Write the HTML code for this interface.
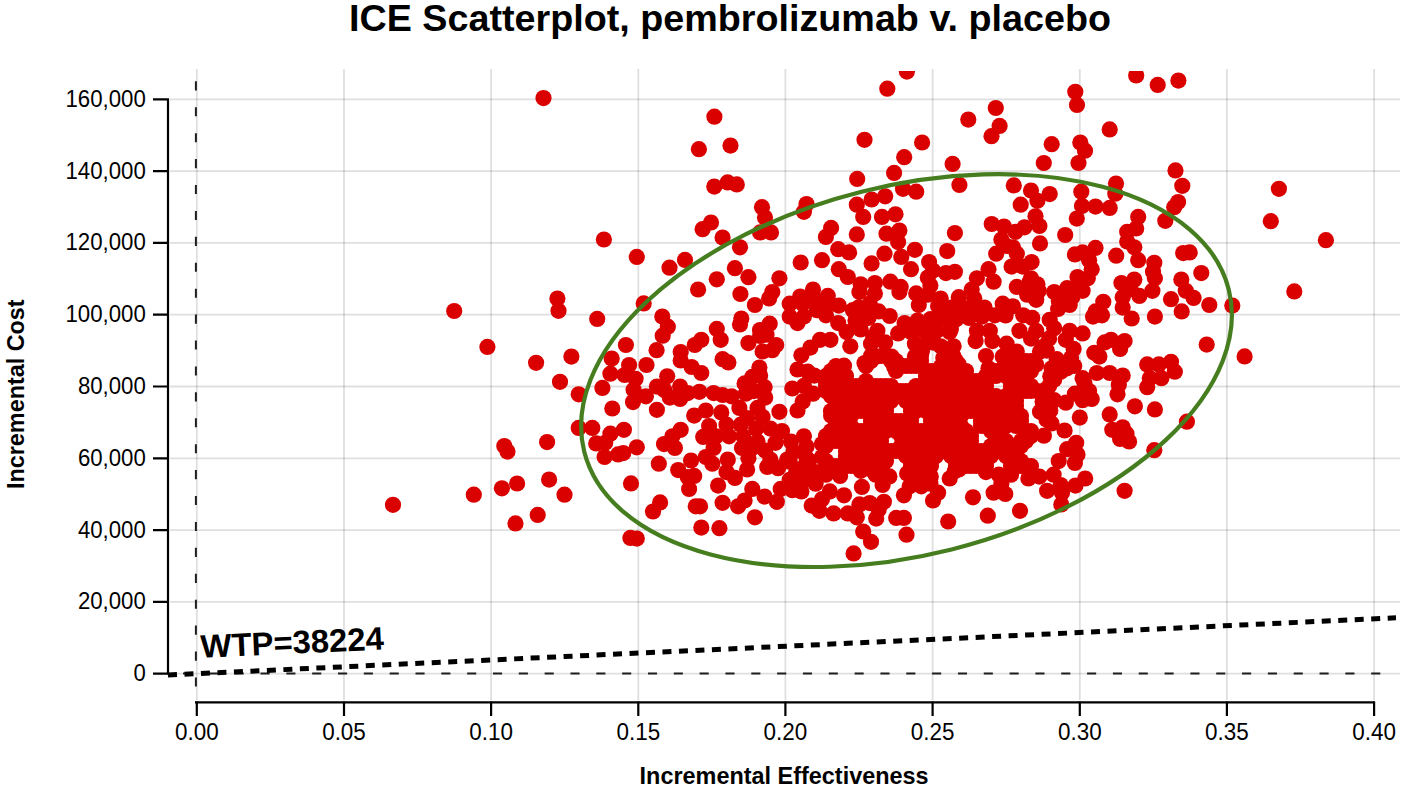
<!DOCTYPE html><html><head><meta charset="utf-8"><style>html,body{margin:0;padding:0;background:#fff;}svg{display:block;}text{font-family:"Liberation Sans",sans-serif;}</style></head><body>
<svg width="1404" height="790" viewBox="0 0 1404 790">
<rect width="1404" height="790" fill="#fff"/>
<path d="M196.8 69V700 M344.0 69V700 M491.1 69V700 M638.3 69V700 M785.4 69V700 M932.6 69V700 M1079.8 69V700 M1226.9 69V700 M1374.1 69V700" stroke="#000" stroke-opacity="0.125" stroke-width="1.8" fill="none"/>
<path d="M170 673.7H1400 M170 601.9H1400 M170 530.1H1400 M170 458.3H1400 M170 386.5H1400 M170 314.7H1400 M170 242.9H1400 M170 171.1H1400 M170 99.3H1400" stroke="#000" stroke-opacity="0.125" stroke-width="1.8" fill="none"/>
<path d="M195.9 81.3V687" stroke="#1e1e1e" stroke-width="2" stroke-dasharray="9.1 16.82" fill="none"/>
<path d="M1380.3 673.6H170" stroke="#1e1e1e" stroke-width="2" stroke-dasharray="9.1 16.73" fill="none"/>
<defs><clipPath id="c"><rect x="170" y="71.1" width="1230" height="630"/></clipPath></defs>
<g fill="#db0000" clip-path="url(#c)">
<circle cx="543.5" cy="98.1" r="8.1"/>
<circle cx="714.4" cy="116.7" r="8.1"/>
<circle cx="698.9" cy="149.2" r="8.1"/>
<circle cx="730.5" cy="145.6" r="8.1"/>
<circle cx="714.3" cy="186.6" r="8.1"/>
<circle cx="727.6" cy="182.4" r="8.1"/>
<circle cx="736.8" cy="184.4" r="8.1"/>
<circle cx="906.9" cy="71.6" r="8.1"/>
<circle cx="887.3" cy="88.7" r="8.1"/>
<circle cx="864.5" cy="139.8" r="8.1"/>
<circle cx="922.1" cy="142.5" r="8.1"/>
<circle cx="904.2" cy="157.2" r="8.1"/>
<circle cx="894.1" cy="172.9" r="8.1"/>
<circle cx="857.2" cy="178.9" r="8.1"/>
<circle cx="952.6" cy="163.9" r="8.1"/>
<circle cx="968.3" cy="119.6" r="8.1"/>
<circle cx="995.8" cy="108.0" r="8.1"/>
<circle cx="999.6" cy="125.9" r="8.1"/>
<circle cx="991.5" cy="136.2" r="8.1"/>
<circle cx="1075.3" cy="91.8" r="8.1"/>
<circle cx="1077.0" cy="104.9" r="8.1"/>
<circle cx="1051.7" cy="144.2" r="8.1"/>
<circle cx="1043.8" cy="163.0" r="8.1"/>
<circle cx="1080.3" cy="142.5" r="8.1"/>
<circle cx="1085.0" cy="150.7" r="8.1"/>
<circle cx="1078.5" cy="163.0" r="8.1"/>
<circle cx="959.4" cy="184.9" r="8.1"/>
<circle cx="1013.8" cy="185.4" r="8.1"/>
<circle cx="903.0" cy="188.8" r="8.1"/>
<circle cx="1136.2" cy="75.5" r="8.1"/>
<circle cx="1157.7" cy="84.9" r="8.1"/>
<circle cx="1178.4" cy="80.6" r="8.1"/>
<circle cx="1109.7" cy="129.4" r="8.1"/>
<circle cx="1175.5" cy="170.4" r="8.1"/>
<circle cx="1182.3" cy="185.8" r="8.1"/>
<circle cx="1116.0" cy="183.5" r="8.1"/>
<circle cx="1278.9" cy="188.8" r="8.1"/>
<circle cx="454.2" cy="311.0" r="8.1"/>
<circle cx="487.4" cy="346.9" r="8.1"/>
<circle cx="393.0" cy="504.8" r="8.1"/>
<circle cx="473.8" cy="494.7" r="8.1"/>
<circle cx="504.3" cy="446.0" r="8.1"/>
<circle cx="507.5" cy="451.6" r="8.1"/>
<circle cx="501.9" cy="488.3" r="8.1"/>
<circle cx="517.1" cy="483.5" r="8.1"/>
<circle cx="515.5" cy="523.4" r="8.1"/>
<circle cx="603.9" cy="239.5" r="8.1"/>
<circle cx="636.8" cy="256.9" r="8.1"/>
<circle cx="669.5" cy="267.7" r="8.1"/>
<circle cx="685.0" cy="259.9" r="8.1"/>
<circle cx="557.4" cy="298.5" r="8.1"/>
<circle cx="558.5" cy="310.8" r="8.1"/>
<circle cx="597.2" cy="318.9" r="8.1"/>
<circle cx="643.7" cy="303.4" r="8.1"/>
<circle cx="662.3" cy="316.6" r="8.1"/>
<circle cx="667.8" cy="326.7" r="8.1"/>
<circle cx="662.7" cy="335.7" r="8.1"/>
<circle cx="656.6" cy="350.2" r="8.1"/>
<circle cx="625.9" cy="345.0" r="8.1"/>
<circle cx="680.7" cy="352.1" r="8.1"/>
<circle cx="680.7" cy="360.5" r="8.1"/>
<circle cx="611.7" cy="358.6" r="8.1"/>
<circle cx="629.1" cy="365.0" r="8.1"/>
<circle cx="646.5" cy="365.0" r="8.1"/>
<circle cx="536.1" cy="362.8" r="8.1"/>
<circle cx="571.4" cy="356.6" r="8.1"/>
<circle cx="560.0" cy="381.8" r="8.1"/>
<circle cx="578.7" cy="394.3" r="8.1"/>
<circle cx="602.4" cy="387.9" r="8.1"/>
<circle cx="610.4" cy="373.7" r="8.1"/>
<circle cx="624.6" cy="375.0" r="8.1"/>
<circle cx="635.6" cy="378.8" r="8.1"/>
<circle cx="633.6" cy="389.8" r="8.1"/>
<circle cx="633.0" cy="402.1" r="8.1"/>
<circle cx="645.9" cy="396.3" r="8.1"/>
<circle cx="612.3" cy="408.5" r="8.1"/>
<circle cx="656.9" cy="386.6" r="8.1"/>
<circle cx="667.2" cy="376.3" r="8.1"/>
<circle cx="680.1" cy="386.6" r="8.1"/>
<circle cx="669.8" cy="397.6" r="8.1"/>
<circle cx="680.1" cy="398.9" r="8.1"/>
<circle cx="687.8" cy="393.1" r="8.1"/>
<circle cx="656.9" cy="409.8" r="8.1"/>
<circle cx="578.7" cy="427.9" r="8.1"/>
<circle cx="592.3" cy="427.9" r="8.1"/>
<circle cx="610.4" cy="433.7" r="8.1"/>
<circle cx="623.9" cy="429.8" r="8.1"/>
<circle cx="596.2" cy="443.4" r="8.1"/>
<circle cx="605.2" cy="442.8" r="8.1"/>
<circle cx="604.6" cy="457.0" r="8.1"/>
<circle cx="618.1" cy="454.4" r="8.1"/>
<circle cx="623.3" cy="453.1" r="8.1"/>
<circle cx="636.8" cy="447.3" r="8.1"/>
<circle cx="547.1" cy="442.1" r="8.1"/>
<circle cx="680.7" cy="429.8" r="8.1"/>
<circle cx="672.4" cy="436.3" r="8.1"/>
<circle cx="664.0" cy="444.1" r="8.1"/>
<circle cx="674.9" cy="447.9" r="8.1"/>
<circle cx="658.8" cy="463.7" r="8.1"/>
<circle cx="678.2" cy="470.1" r="8.1"/>
<circle cx="687.8" cy="477.2" r="8.1"/>
<circle cx="689.1" cy="488.9" r="8.1"/>
<circle cx="631.0" cy="483.4" r="8.1"/>
<circle cx="660.1" cy="502.4" r="8.1"/>
<circle cx="653.0" cy="511.5" r="8.1"/>
<circle cx="549.1" cy="479.6" r="8.1"/>
<circle cx="564.5" cy="494.7" r="8.1"/>
<circle cx="537.7" cy="514.9" r="8.1"/>
<circle cx="630.4" cy="537.9" r="8.1"/>
<circle cx="636.8" cy="538.6" r="8.1"/>
<circle cx="762.0" cy="207.2" r="8.1"/>
<circle cx="765.0" cy="217.6" r="8.1"/>
<circle cx="806.5" cy="204.0" r="8.1"/>
<circle cx="803.9" cy="211.8" r="8.1"/>
<circle cx="711.0" cy="222.5" r="8.1"/>
<circle cx="702.6" cy="229.2" r="8.1"/>
<circle cx="722.6" cy="237.6" r="8.1"/>
<circle cx="760.1" cy="232.4" r="8.1"/>
<circle cx="771.0" cy="232.4" r="8.1"/>
<circle cx="740.0" cy="247.3" r="8.1"/>
<circle cx="734.9" cy="268.2" r="8.1"/>
<circle cx="748.4" cy="277.2" r="8.1"/>
<circle cx="716.8" cy="279.3" r="8.1"/>
<circle cx="779.4" cy="278.3" r="8.1"/>
<circle cx="800.7" cy="262.5" r="8.1"/>
<circle cx="822.0" cy="260.2" r="8.1"/>
<circle cx="831.1" cy="227.9" r="8.1"/>
<circle cx="825.9" cy="236.9" r="8.1"/>
<circle cx="838.2" cy="249.2" r="8.1"/>
<circle cx="849.1" cy="252.4" r="8.1"/>
<circle cx="838.8" cy="269.2" r="8.1"/>
<circle cx="847.8" cy="277.0" r="8.1"/>
<circle cx="698.1" cy="289.5" r="8.1"/>
<circle cx="740.4" cy="294.0" r="8.1"/>
<circle cx="772.3" cy="292.1" r="8.1"/>
<circle cx="769.1" cy="298.5" r="8.1"/>
<circle cx="754.9" cy="305.0" r="8.1"/>
<circle cx="741.3" cy="318.5" r="8.1"/>
<circle cx="740.0" cy="324.4" r="8.1"/>
<circle cx="769.7" cy="323.7" r="8.1"/>
<circle cx="716.8" cy="328.9" r="8.1"/>
<circle cx="720.7" cy="339.8" r="8.1"/>
<circle cx="701.3" cy="339.8" r="8.1"/>
<circle cx="694.8" cy="345.0" r="8.1"/>
<circle cx="722.6" cy="359.2" r="8.1"/>
<circle cx="728.4" cy="362.4" r="8.1"/>
<circle cx="748.4" cy="343.1" r="8.1"/>
<circle cx="760.1" cy="336.0" r="8.1"/>
<circle cx="766.5" cy="334.7" r="8.1"/>
<circle cx="776.2" cy="345.0" r="8.1"/>
<circle cx="762.6" cy="351.5" r="8.1"/>
<circle cx="772.3" cy="350.2" r="8.1"/>
<circle cx="759.4" cy="367.6" r="8.1"/>
<circle cx="691.6" cy="367.0" r="8.1"/>
<circle cx="789.7" cy="303.7" r="8.1"/>
<circle cx="800.1" cy="296.6" r="8.1"/>
<circle cx="813.0" cy="289.5" r="8.1"/>
<circle cx="827.8" cy="295.9" r="8.1"/>
<circle cx="838.8" cy="305.6" r="8.1"/>
<circle cx="816.9" cy="310.2" r="8.1"/>
<circle cx="825.9" cy="315.3" r="8.1"/>
<circle cx="838.2" cy="323.1" r="8.1"/>
<circle cx="789.7" cy="316.6" r="8.1"/>
<circle cx="797.5" cy="323.1" r="8.1"/>
<circle cx="803.9" cy="316.6" r="8.1"/>
<circle cx="802.7" cy="303.7" r="8.1"/>
<circle cx="846.6" cy="332.1" r="8.1"/>
<circle cx="820.1" cy="339.8" r="8.1"/>
<circle cx="830.4" cy="339.8" r="8.1"/>
<circle cx="810.4" cy="347.6" r="8.1"/>
<circle cx="801.4" cy="355.3" r="8.1"/>
<circle cx="797.5" cy="369.5" r="8.1"/>
<circle cx="844.0" cy="365.7" r="8.1"/>
<circle cx="701.3" cy="373.0" r="8.1"/>
<circle cx="744.6" cy="383.4" r="8.1"/>
<circle cx="752.3" cy="376.9" r="8.1"/>
<circle cx="760.1" cy="375.6" r="8.1"/>
<circle cx="764.6" cy="387.2" r="8.1"/>
<circle cx="765.2" cy="397.6" r="8.1"/>
<circle cx="753.6" cy="391.1" r="8.1"/>
<circle cx="745.8" cy="393.7" r="8.1"/>
<circle cx="807.8" cy="371.7" r="8.1"/>
<circle cx="814.3" cy="375.6" r="8.1"/>
<circle cx="792.3" cy="388.5" r="8.1"/>
<circle cx="803.9" cy="385.9" r="8.1"/>
<circle cx="813.0" cy="393.7" r="8.1"/>
<circle cx="802.7" cy="401.4" r="8.1"/>
<circle cx="797.5" cy="410.5" r="8.1"/>
<circle cx="829.8" cy="374.3" r="8.1"/>
<circle cx="832.4" cy="389.8" r="8.1"/>
<circle cx="842.7" cy="383.4" r="8.1"/>
<circle cx="847.8" cy="393.7" r="8.1"/>
<circle cx="831.1" cy="415.6" r="8.1"/>
<circle cx="845.3" cy="407.9" r="8.1"/>
<circle cx="847.8" cy="420.8" r="8.1"/>
<circle cx="779.4" cy="411.8" r="8.1"/>
<circle cx="699.4" cy="391.8" r="8.1"/>
<circle cx="713.6" cy="393.1" r="8.1"/>
<circle cx="722.6" cy="395.0" r="8.1"/>
<circle cx="731.6" cy="396.3" r="8.1"/>
<circle cx="694.2" cy="415.6" r="8.1"/>
<circle cx="705.8" cy="410.5" r="8.1"/>
<circle cx="721.3" cy="412.4" r="8.1"/>
<circle cx="739.4" cy="407.9" r="8.1"/>
<circle cx="757.5" cy="407.9" r="8.1"/>
<circle cx="762.6" cy="416.9" r="8.1"/>
<circle cx="747.1" cy="418.2" r="8.1"/>
<circle cx="740.7" cy="424.7" r="8.1"/>
<circle cx="726.5" cy="424.7" r="8.1"/>
<circle cx="709.1" cy="426.0" r="8.1"/>
<circle cx="703.2" cy="436.9" r="8.1"/>
<circle cx="716.2" cy="436.3" r="8.1"/>
<circle cx="729.1" cy="436.3" r="8.1"/>
<circle cx="743.3" cy="436.3" r="8.1"/>
<circle cx="756.2" cy="428.6" r="8.1"/>
<circle cx="757.5" cy="441.5" r="8.1"/>
<circle cx="770.4" cy="428.6" r="8.1"/>
<circle cx="782.0" cy="431.1" r="8.1"/>
<circle cx="775.5" cy="442.8" r="8.1"/>
<circle cx="742.0" cy="447.9" r="8.1"/>
<circle cx="752.3" cy="447.9" r="8.1"/>
<circle cx="765.2" cy="450.5" r="8.1"/>
<circle cx="713.6" cy="447.9" r="8.1"/>
<circle cx="705.8" cy="457.0" r="8.1"/>
<circle cx="727.8" cy="459.5" r="8.1"/>
<circle cx="748.4" cy="458.3" r="8.1"/>
<circle cx="770.4" cy="459.5" r="8.1"/>
<circle cx="791.0" cy="441.5" r="8.1"/>
<circle cx="803.9" cy="436.3" r="8.1"/>
<circle cx="838.8" cy="433.7" r="8.1"/>
<circle cx="793.6" cy="451.8" r="8.1"/>
<circle cx="806.5" cy="446.6" r="8.1"/>
<circle cx="822.0" cy="444.1" r="8.1"/>
<circle cx="847.8" cy="441.5" r="8.1"/>
<circle cx="822.0" cy="457.0" r="8.1"/>
<circle cx="806.5" cy="458.3" r="8.1"/>
<circle cx="787.2" cy="459.5" r="8.1"/>
<circle cx="837.5" cy="380.8" r="8.1"/>
<circle cx="840.1" cy="397.6" r="8.1"/>
<circle cx="691.0" cy="460.5" r="8.1"/>
<circle cx="694.2" cy="475.9" r="8.1"/>
<circle cx="712.3" cy="463.7" r="8.1"/>
<circle cx="726.5" cy="472.1" r="8.1"/>
<circle cx="734.9" cy="477.9" r="8.1"/>
<circle cx="747.1" cy="469.5" r="8.1"/>
<circle cx="718.1" cy="485.6" r="8.1"/>
<circle cx="695.8" cy="506.3" r="8.1"/>
<circle cx="700.0" cy="506.3" r="8.1"/>
<circle cx="722.6" cy="502.8" r="8.1"/>
<circle cx="701.3" cy="527.6" r="8.1"/>
<circle cx="719.4" cy="528.2" r="8.1"/>
<circle cx="738.1" cy="506.3" r="8.1"/>
<circle cx="744.6" cy="500.5" r="8.1"/>
<circle cx="752.3" cy="488.9" r="8.1"/>
<circle cx="754.9" cy="517.3" r="8.1"/>
<circle cx="764.6" cy="496.6" r="8.1"/>
<circle cx="767.2" cy="466.9" r="8.1"/>
<circle cx="776.8" cy="501.8" r="8.1"/>
<circle cx="780.7" cy="488.9" r="8.1"/>
<circle cx="778.1" cy="468.2" r="8.1"/>
<circle cx="789.7" cy="461.7" r="8.1"/>
<circle cx="796.2" cy="472.1" r="8.1"/>
<circle cx="789.7" cy="479.8" r="8.1"/>
<circle cx="792.3" cy="490.2" r="8.1"/>
<circle cx="801.4" cy="491.4" r="8.1"/>
<circle cx="803.9" cy="479.8" r="8.1"/>
<circle cx="803.9" cy="466.9" r="8.1"/>
<circle cx="815.6" cy="472.1" r="8.1"/>
<circle cx="815.6" cy="483.7" r="8.1"/>
<circle cx="825.9" cy="474.7" r="8.1"/>
<circle cx="840.1" cy="475.9" r="8.1"/>
<circle cx="829.8" cy="491.4" r="8.1"/>
<circle cx="844.0" cy="495.3" r="8.1"/>
<circle cx="811.7" cy="505.6" r="8.1"/>
<circle cx="819.4" cy="510.8" r="8.1"/>
<circle cx="822.0" cy="499.2" r="8.1"/>
<circle cx="833.6" cy="513.4" r="8.1"/>
<circle cx="847.8" cy="513.4" r="8.1"/>
<circle cx="809.1" cy="460.5" r="8.1"/>
<circle cx="916.2" cy="191.7" r="8.1"/>
<circle cx="885.2" cy="196.3" r="8.1"/>
<circle cx="871.6" cy="199.5" r="8.1"/>
<circle cx="856.8" cy="204.7" r="8.1"/>
<circle cx="863.2" cy="216.9" r="8.1"/>
<circle cx="882.0" cy="216.9" r="8.1"/>
<circle cx="895.5" cy="214.3" r="8.1"/>
<circle cx="856.8" cy="234.4" r="8.1"/>
<circle cx="886.5" cy="233.7" r="8.1"/>
<circle cx="899.4" cy="230.5" r="8.1"/>
<circle cx="898.1" cy="242.1" r="8.1"/>
<circle cx="884.5" cy="253.7" r="8.1"/>
<circle cx="871.6" cy="263.4" r="8.1"/>
<circle cx="901.3" cy="256.9" r="8.1"/>
<circle cx="914.9" cy="249.8" r="8.1"/>
<circle cx="911.0" cy="269.2" r="8.1"/>
<circle cx="929.1" cy="262.1" r="8.1"/>
<circle cx="933.0" cy="270.5" r="8.1"/>
<circle cx="927.8" cy="277.6" r="8.1"/>
<circle cx="945.9" cy="273.1" r="8.1"/>
<circle cx="954.9" cy="271.8" r="8.1"/>
<circle cx="954.9" cy="233.1" r="8.1"/>
<circle cx="947.2" cy="251.1" r="8.1"/>
<circle cx="991.7" cy="224.0" r="8.1"/>
<circle cx="1004.0" cy="226.6" r="8.1"/>
<circle cx="1001.4" cy="239.5" r="8.1"/>
<circle cx="996.2" cy="253.7" r="8.1"/>
<circle cx="988.5" cy="269.2" r="8.1"/>
<circle cx="976.9" cy="278.3" r="8.1"/>
<circle cx="1006.6" cy="246.0" r="8.1"/>
<circle cx="860.7" cy="284.3" r="8.1"/>
<circle cx="874.9" cy="283.0" r="8.1"/>
<circle cx="890.4" cy="281.7" r="8.1"/>
<circle cx="900.7" cy="286.9" r="8.1"/>
<circle cx="930.4" cy="285.6" r="8.1"/>
<circle cx="993.6" cy="281.7" r="8.1"/>
<circle cx="859.4" cy="292.1" r="8.1"/>
<circle cx="874.9" cy="293.4" r="8.1"/>
<circle cx="899.4" cy="292.1" r="8.1"/>
<circle cx="916.2" cy="293.4" r="8.1"/>
<circle cx="927.8" cy="294.7" r="8.1"/>
<circle cx="940.7" cy="298.5" r="8.1"/>
<circle cx="958.8" cy="297.2" r="8.1"/>
<circle cx="971.7" cy="289.5" r="8.1"/>
<circle cx="974.3" cy="298.5" r="8.1"/>
<circle cx="852.9" cy="310.2" r="8.1"/>
<circle cx="869.7" cy="303.7" r="8.1"/>
<circle cx="878.7" cy="311.4" r="8.1"/>
<circle cx="889.7" cy="316.0" r="8.1"/>
<circle cx="918.8" cy="305.0" r="8.1"/>
<circle cx="938.1" cy="306.3" r="8.1"/>
<circle cx="951.0" cy="307.6" r="8.1"/>
<circle cx="962.7" cy="307.6" r="8.1"/>
<circle cx="984.6" cy="307.6" r="8.1"/>
<circle cx="1002.7" cy="303.7" r="8.1"/>
<circle cx="855.5" cy="320.5" r="8.1"/>
<circle cx="868.4" cy="317.9" r="8.1"/>
<circle cx="904.6" cy="323.1" r="8.1"/>
<circle cx="917.5" cy="320.5" r="8.1"/>
<circle cx="930.4" cy="319.2" r="8.1"/>
<circle cx="943.3" cy="317.9" r="8.1"/>
<circle cx="956.2" cy="319.2" r="8.1"/>
<circle cx="969.1" cy="317.9" r="8.1"/>
<circle cx="982.0" cy="316.6" r="8.1"/>
<circle cx="994.9" cy="315.3" r="8.1"/>
<circle cx="860.7" cy="329.5" r="8.1"/>
<circle cx="877.4" cy="330.8" r="8.1"/>
<circle cx="898.1" cy="333.4" r="8.1"/>
<circle cx="911.0" cy="332.1" r="8.1"/>
<circle cx="923.9" cy="330.8" r="8.1"/>
<circle cx="936.8" cy="330.8" r="8.1"/>
<circle cx="949.7" cy="332.1" r="8.1"/>
<circle cx="976.9" cy="330.8" r="8.1"/>
<circle cx="989.8" cy="330.8" r="8.1"/>
<circle cx="850.3" cy="346.3" r="8.1"/>
<circle cx="871.0" cy="343.7" r="8.1"/>
<circle cx="885.2" cy="342.4" r="8.1"/>
<circle cx="914.9" cy="343.7" r="8.1"/>
<circle cx="927.8" cy="342.4" r="8.1"/>
<circle cx="940.7" cy="346.3" r="8.1"/>
<circle cx="953.6" cy="346.3" r="8.1"/>
<circle cx="975.6" cy="341.1" r="8.1"/>
<circle cx="992.4" cy="341.1" r="8.1"/>
<circle cx="1006.6" cy="343.7" r="8.1"/>
<circle cx="864.5" cy="363.1" r="8.1"/>
<circle cx="876.2" cy="356.6" r="8.1"/>
<circle cx="891.6" cy="356.6" r="8.1"/>
<circle cx="914.9" cy="356.6" r="8.1"/>
<circle cx="943.3" cy="357.9" r="8.1"/>
<circle cx="953.6" cy="356.6" r="8.1"/>
<circle cx="1002.7" cy="356.6" r="8.1"/>
<circle cx="894.2" cy="367.0" r="8.1"/>
<circle cx="940.7" cy="367.0" r="8.1"/>
<circle cx="958.8" cy="364.4" r="8.1"/>
<circle cx="988.5" cy="368.3" r="8.1"/>
<circle cx="1004.0" cy="367.0" r="8.1"/>
<circle cx="871.0" cy="356.0" r="8.1"/>
<circle cx="881.0" cy="356.0" r="8.1"/>
<circle cx="886.0" cy="356.0" r="8.1"/>
<circle cx="921.0" cy="356.0" r="8.1"/>
<circle cx="946.0" cy="356.0" r="8.1"/>
<circle cx="986.0" cy="356.0" r="8.1"/>
<circle cx="1006.0" cy="356.0" r="8.1"/>
<circle cx="1011.0" cy="356.0" r="8.1"/>
<circle cx="1016.0" cy="356.0" r="8.1"/>
<circle cx="871.0" cy="361.0" r="8.1"/>
<circle cx="891.0" cy="361.0" r="8.1"/>
<circle cx="896.0" cy="361.0" r="8.1"/>
<circle cx="916.0" cy="361.0" r="8.1"/>
<circle cx="921.0" cy="361.0" r="8.1"/>
<circle cx="946.0" cy="361.0" r="8.1"/>
<circle cx="951.0" cy="361.0" r="8.1"/>
<circle cx="956.0" cy="361.0" r="8.1"/>
<circle cx="1006.0" cy="361.0" r="8.1"/>
<circle cx="1011.0" cy="361.0" r="8.1"/>
<circle cx="1016.0" cy="361.0" r="8.1"/>
<circle cx="1021.0" cy="361.0" r="8.1"/>
<circle cx="1026.0" cy="361.0" r="8.1"/>
<circle cx="1031.0" cy="361.0" r="8.1"/>
<circle cx="836.0" cy="366.0" r="8.1"/>
<circle cx="866.0" cy="366.0" r="8.1"/>
<circle cx="901.0" cy="366.0" r="8.1"/>
<circle cx="906.0" cy="366.0" r="8.1"/>
<circle cx="911.0" cy="366.0" r="8.1"/>
<circle cx="916.0" cy="366.0" r="8.1"/>
<circle cx="921.0" cy="366.0" r="8.1"/>
<circle cx="946.0" cy="366.0" r="8.1"/>
<circle cx="951.0" cy="366.0" r="8.1"/>
<circle cx="956.0" cy="366.0" r="8.1"/>
<circle cx="1011.0" cy="366.0" r="8.1"/>
<circle cx="1016.0" cy="366.0" r="8.1"/>
<circle cx="1021.0" cy="366.0" r="8.1"/>
<circle cx="1026.0" cy="366.0" r="8.1"/>
<circle cx="1031.0" cy="366.0" r="8.1"/>
<circle cx="831.0" cy="371.0" r="8.1"/>
<circle cx="836.0" cy="371.0" r="8.1"/>
<circle cx="841.0" cy="371.0" r="8.1"/>
<circle cx="896.0" cy="371.0" r="8.1"/>
<circle cx="926.0" cy="371.0" r="8.1"/>
<circle cx="931.0" cy="371.0" r="8.1"/>
<circle cx="936.0" cy="371.0" r="8.1"/>
<circle cx="941.0" cy="371.0" r="8.1"/>
<circle cx="946.0" cy="371.0" r="8.1"/>
<circle cx="951.0" cy="371.0" r="8.1"/>
<circle cx="956.0" cy="371.0" r="8.1"/>
<circle cx="961.0" cy="371.0" r="8.1"/>
<circle cx="966.0" cy="371.0" r="8.1"/>
<circle cx="991.0" cy="371.0" r="8.1"/>
<circle cx="996.0" cy="371.0" r="8.1"/>
<circle cx="1001.0" cy="371.0" r="8.1"/>
<circle cx="1006.0" cy="371.0" r="8.1"/>
<circle cx="1011.0" cy="371.0" r="8.1"/>
<circle cx="1016.0" cy="371.0" r="8.1"/>
<circle cx="1021.0" cy="371.0" r="8.1"/>
<circle cx="1026.0" cy="371.0" r="8.1"/>
<circle cx="1031.0" cy="371.0" r="8.1"/>
<circle cx="826.0" cy="376.0" r="8.1"/>
<circle cx="836.0" cy="376.0" r="8.1"/>
<circle cx="841.0" cy="376.0" r="8.1"/>
<circle cx="846.0" cy="376.0" r="8.1"/>
<circle cx="926.0" cy="376.0" r="8.1"/>
<circle cx="931.0" cy="376.0" r="8.1"/>
<circle cx="936.0" cy="376.0" r="8.1"/>
<circle cx="941.0" cy="376.0" r="8.1"/>
<circle cx="946.0" cy="376.0" r="8.1"/>
<circle cx="951.0" cy="376.0" r="8.1"/>
<circle cx="956.0" cy="376.0" r="8.1"/>
<circle cx="961.0" cy="376.0" r="8.1"/>
<circle cx="966.0" cy="376.0" r="8.1"/>
<circle cx="986.0" cy="376.0" r="8.1"/>
<circle cx="991.0" cy="376.0" r="8.1"/>
<circle cx="996.0" cy="376.0" r="8.1"/>
<circle cx="1006.0" cy="376.0" r="8.1"/>
<circle cx="1011.0" cy="376.0" r="8.1"/>
<circle cx="1016.0" cy="376.0" r="8.1"/>
<circle cx="1021.0" cy="376.0" r="8.1"/>
<circle cx="1026.0" cy="376.0" r="8.1"/>
<circle cx="826.0" cy="381.0" r="8.1"/>
<circle cx="831.0" cy="381.0" r="8.1"/>
<circle cx="846.0" cy="381.0" r="8.1"/>
<circle cx="866.0" cy="381.0" r="8.1"/>
<circle cx="926.0" cy="381.0" r="8.1"/>
<circle cx="931.0" cy="381.0" r="8.1"/>
<circle cx="936.0" cy="381.0" r="8.1"/>
<circle cx="941.0" cy="381.0" r="8.1"/>
<circle cx="946.0" cy="381.0" r="8.1"/>
<circle cx="951.0" cy="381.0" r="8.1"/>
<circle cx="956.0" cy="381.0" r="8.1"/>
<circle cx="961.0" cy="381.0" r="8.1"/>
<circle cx="966.0" cy="381.0" r="8.1"/>
<circle cx="971.0" cy="381.0" r="8.1"/>
<circle cx="976.0" cy="381.0" r="8.1"/>
<circle cx="981.0" cy="381.0" r="8.1"/>
<circle cx="986.0" cy="381.0" r="8.1"/>
<circle cx="1011.0" cy="381.0" r="8.1"/>
<circle cx="1016.0" cy="381.0" r="8.1"/>
<circle cx="1021.0" cy="381.0" r="8.1"/>
<circle cx="1026.0" cy="381.0" r="8.1"/>
<circle cx="826.0" cy="386.0" r="8.1"/>
<circle cx="831.0" cy="386.0" r="8.1"/>
<circle cx="836.0" cy="386.0" r="8.1"/>
<circle cx="841.0" cy="386.0" r="8.1"/>
<circle cx="846.0" cy="386.0" r="8.1"/>
<circle cx="851.0" cy="386.0" r="8.1"/>
<circle cx="856.0" cy="386.0" r="8.1"/>
<circle cx="861.0" cy="386.0" r="8.1"/>
<circle cx="866.0" cy="386.0" r="8.1"/>
<circle cx="871.0" cy="386.0" r="8.1"/>
<circle cx="876.0" cy="386.0" r="8.1"/>
<circle cx="881.0" cy="386.0" r="8.1"/>
<circle cx="886.0" cy="386.0" r="8.1"/>
<circle cx="891.0" cy="386.0" r="8.1"/>
<circle cx="916.0" cy="386.0" r="8.1"/>
<circle cx="921.0" cy="386.0" r="8.1"/>
<circle cx="926.0" cy="386.0" r="8.1"/>
<circle cx="931.0" cy="386.0" r="8.1"/>
<circle cx="936.0" cy="386.0" r="8.1"/>
<circle cx="941.0" cy="386.0" r="8.1"/>
<circle cx="946.0" cy="386.0" r="8.1"/>
<circle cx="951.0" cy="386.0" r="8.1"/>
<circle cx="956.0" cy="386.0" r="8.1"/>
<circle cx="961.0" cy="386.0" r="8.1"/>
<circle cx="966.0" cy="386.0" r="8.1"/>
<circle cx="971.0" cy="386.0" r="8.1"/>
<circle cx="976.0" cy="386.0" r="8.1"/>
<circle cx="981.0" cy="386.0" r="8.1"/>
<circle cx="986.0" cy="386.0" r="8.1"/>
<circle cx="1011.0" cy="386.0" r="8.1"/>
<circle cx="1016.0" cy="386.0" r="8.1"/>
<circle cx="1021.0" cy="386.0" r="8.1"/>
<circle cx="1026.0" cy="386.0" r="8.1"/>
<circle cx="1031.0" cy="386.0" r="8.1"/>
<circle cx="826.0" cy="391.0" r="8.1"/>
<circle cx="836.0" cy="391.0" r="8.1"/>
<circle cx="841.0" cy="391.0" r="8.1"/>
<circle cx="846.0" cy="391.0" r="8.1"/>
<circle cx="851.0" cy="391.0" r="8.1"/>
<circle cx="856.0" cy="391.0" r="8.1"/>
<circle cx="861.0" cy="391.0" r="8.1"/>
<circle cx="866.0" cy="391.0" r="8.1"/>
<circle cx="871.0" cy="391.0" r="8.1"/>
<circle cx="876.0" cy="391.0" r="8.1"/>
<circle cx="881.0" cy="391.0" r="8.1"/>
<circle cx="886.0" cy="391.0" r="8.1"/>
<circle cx="891.0" cy="391.0" r="8.1"/>
<circle cx="896.0" cy="391.0" r="8.1"/>
<circle cx="901.0" cy="391.0" r="8.1"/>
<circle cx="906.0" cy="391.0" r="8.1"/>
<circle cx="911.0" cy="391.0" r="8.1"/>
<circle cx="916.0" cy="391.0" r="8.1"/>
<circle cx="921.0" cy="391.0" r="8.1"/>
<circle cx="926.0" cy="391.0" r="8.1"/>
<circle cx="931.0" cy="391.0" r="8.1"/>
<circle cx="936.0" cy="391.0" r="8.1"/>
<circle cx="941.0" cy="391.0" r="8.1"/>
<circle cx="946.0" cy="391.0" r="8.1"/>
<circle cx="951.0" cy="391.0" r="8.1"/>
<circle cx="956.0" cy="391.0" r="8.1"/>
<circle cx="961.0" cy="391.0" r="8.1"/>
<circle cx="966.0" cy="391.0" r="8.1"/>
<circle cx="971.0" cy="391.0" r="8.1"/>
<circle cx="976.0" cy="391.0" r="8.1"/>
<circle cx="981.0" cy="391.0" r="8.1"/>
<circle cx="986.0" cy="391.0" r="8.1"/>
<circle cx="1011.0" cy="391.0" r="8.1"/>
<circle cx="1016.0" cy="391.0" r="8.1"/>
<circle cx="1021.0" cy="391.0" r="8.1"/>
<circle cx="1026.0" cy="391.0" r="8.1"/>
<circle cx="1031.0" cy="391.0" r="8.1"/>
<circle cx="831.0" cy="396.0" r="8.1"/>
<circle cx="836.0" cy="396.0" r="8.1"/>
<circle cx="851.0" cy="396.0" r="8.1"/>
<circle cx="856.0" cy="396.0" r="8.1"/>
<circle cx="861.0" cy="396.0" r="8.1"/>
<circle cx="866.0" cy="396.0" r="8.1"/>
<circle cx="871.0" cy="396.0" r="8.1"/>
<circle cx="876.0" cy="396.0" r="8.1"/>
<circle cx="881.0" cy="396.0" r="8.1"/>
<circle cx="886.0" cy="396.0" r="8.1"/>
<circle cx="891.0" cy="396.0" r="8.1"/>
<circle cx="896.0" cy="396.0" r="8.1"/>
<circle cx="901.0" cy="396.0" r="8.1"/>
<circle cx="906.0" cy="396.0" r="8.1"/>
<circle cx="911.0" cy="396.0" r="8.1"/>
<circle cx="916.0" cy="396.0" r="8.1"/>
<circle cx="921.0" cy="396.0" r="8.1"/>
<circle cx="926.0" cy="396.0" r="8.1"/>
<circle cx="931.0" cy="396.0" r="8.1"/>
<circle cx="936.0" cy="396.0" r="8.1"/>
<circle cx="941.0" cy="396.0" r="8.1"/>
<circle cx="946.0" cy="396.0" r="8.1"/>
<circle cx="951.0" cy="396.0" r="8.1"/>
<circle cx="956.0" cy="396.0" r="8.1"/>
<circle cx="961.0" cy="396.0" r="8.1"/>
<circle cx="966.0" cy="396.0" r="8.1"/>
<circle cx="971.0" cy="396.0" r="8.1"/>
<circle cx="976.0" cy="396.0" r="8.1"/>
<circle cx="981.0" cy="396.0" r="8.1"/>
<circle cx="986.0" cy="396.0" r="8.1"/>
<circle cx="991.0" cy="396.0" r="8.1"/>
<circle cx="996.0" cy="396.0" r="8.1"/>
<circle cx="1006.0" cy="396.0" r="8.1"/>
<circle cx="1011.0" cy="396.0" r="8.1"/>
<circle cx="1016.0" cy="396.0" r="8.1"/>
<circle cx="836.0" cy="401.0" r="8.1"/>
<circle cx="841.0" cy="401.0" r="8.1"/>
<circle cx="846.0" cy="401.0" r="8.1"/>
<circle cx="851.0" cy="401.0" r="8.1"/>
<circle cx="856.0" cy="401.0" r="8.1"/>
<circle cx="861.0" cy="401.0" r="8.1"/>
<circle cx="866.0" cy="401.0" r="8.1"/>
<circle cx="871.0" cy="401.0" r="8.1"/>
<circle cx="876.0" cy="401.0" r="8.1"/>
<circle cx="881.0" cy="401.0" r="8.1"/>
<circle cx="886.0" cy="401.0" r="8.1"/>
<circle cx="891.0" cy="401.0" r="8.1"/>
<circle cx="906.0" cy="401.0" r="8.1"/>
<circle cx="911.0" cy="401.0" r="8.1"/>
<circle cx="916.0" cy="401.0" r="8.1"/>
<circle cx="921.0" cy="401.0" r="8.1"/>
<circle cx="926.0" cy="401.0" r="8.1"/>
<circle cx="931.0" cy="401.0" r="8.1"/>
<circle cx="936.0" cy="401.0" r="8.1"/>
<circle cx="941.0" cy="401.0" r="8.1"/>
<circle cx="946.0" cy="401.0" r="8.1"/>
<circle cx="951.0" cy="401.0" r="8.1"/>
<circle cx="956.0" cy="401.0" r="8.1"/>
<circle cx="961.0" cy="401.0" r="8.1"/>
<circle cx="966.0" cy="401.0" r="8.1"/>
<circle cx="971.0" cy="401.0" r="8.1"/>
<circle cx="976.0" cy="401.0" r="8.1"/>
<circle cx="981.0" cy="401.0" r="8.1"/>
<circle cx="986.0" cy="401.0" r="8.1"/>
<circle cx="991.0" cy="401.0" r="8.1"/>
<circle cx="996.0" cy="401.0" r="8.1"/>
<circle cx="1001.0" cy="401.0" r="8.1"/>
<circle cx="1006.0" cy="401.0" r="8.1"/>
<circle cx="1011.0" cy="401.0" r="8.1"/>
<circle cx="1016.0" cy="401.0" r="8.1"/>
<circle cx="836.0" cy="406.0" r="8.1"/>
<circle cx="841.0" cy="406.0" r="8.1"/>
<circle cx="851.0" cy="406.0" r="8.1"/>
<circle cx="856.0" cy="406.0" r="8.1"/>
<circle cx="861.0" cy="406.0" r="8.1"/>
<circle cx="866.0" cy="406.0" r="8.1"/>
<circle cx="871.0" cy="406.0" r="8.1"/>
<circle cx="876.0" cy="406.0" r="8.1"/>
<circle cx="881.0" cy="406.0" r="8.1"/>
<circle cx="886.0" cy="406.0" r="8.1"/>
<circle cx="911.0" cy="406.0" r="8.1"/>
<circle cx="916.0" cy="406.0" r="8.1"/>
<circle cx="921.0" cy="406.0" r="8.1"/>
<circle cx="926.0" cy="406.0" r="8.1"/>
<circle cx="931.0" cy="406.0" r="8.1"/>
<circle cx="936.0" cy="406.0" r="8.1"/>
<circle cx="941.0" cy="406.0" r="8.1"/>
<circle cx="946.0" cy="406.0" r="8.1"/>
<circle cx="951.0" cy="406.0" r="8.1"/>
<circle cx="956.0" cy="406.0" r="8.1"/>
<circle cx="961.0" cy="406.0" r="8.1"/>
<circle cx="966.0" cy="406.0" r="8.1"/>
<circle cx="971.0" cy="406.0" r="8.1"/>
<circle cx="976.0" cy="406.0" r="8.1"/>
<circle cx="981.0" cy="406.0" r="8.1"/>
<circle cx="986.0" cy="406.0" r="8.1"/>
<circle cx="991.0" cy="406.0" r="8.1"/>
<circle cx="996.0" cy="406.0" r="8.1"/>
<circle cx="1001.0" cy="406.0" r="8.1"/>
<circle cx="1006.0" cy="406.0" r="8.1"/>
<circle cx="1011.0" cy="406.0" r="8.1"/>
<circle cx="1016.0" cy="406.0" r="8.1"/>
<circle cx="831.0" cy="411.0" r="8.1"/>
<circle cx="836.0" cy="411.0" r="8.1"/>
<circle cx="841.0" cy="411.0" r="8.1"/>
<circle cx="846.0" cy="411.0" r="8.1"/>
<circle cx="851.0" cy="411.0" r="8.1"/>
<circle cx="856.0" cy="411.0" r="8.1"/>
<circle cx="861.0" cy="411.0" r="8.1"/>
<circle cx="866.0" cy="411.0" r="8.1"/>
<circle cx="871.0" cy="411.0" r="8.1"/>
<circle cx="876.0" cy="411.0" r="8.1"/>
<circle cx="881.0" cy="411.0" r="8.1"/>
<circle cx="886.0" cy="411.0" r="8.1"/>
<circle cx="911.0" cy="411.0" r="8.1"/>
<circle cx="916.0" cy="411.0" r="8.1"/>
<circle cx="926.0" cy="411.0" r="8.1"/>
<circle cx="931.0" cy="411.0" r="8.1"/>
<circle cx="936.0" cy="411.0" r="8.1"/>
<circle cx="941.0" cy="411.0" r="8.1"/>
<circle cx="946.0" cy="411.0" r="8.1"/>
<circle cx="951.0" cy="411.0" r="8.1"/>
<circle cx="956.0" cy="411.0" r="8.1"/>
<circle cx="961.0" cy="411.0" r="8.1"/>
<circle cx="966.0" cy="411.0" r="8.1"/>
<circle cx="971.0" cy="411.0" r="8.1"/>
<circle cx="976.0" cy="411.0" r="8.1"/>
<circle cx="981.0" cy="411.0" r="8.1"/>
<circle cx="986.0" cy="411.0" r="8.1"/>
<circle cx="991.0" cy="411.0" r="8.1"/>
<circle cx="996.0" cy="411.0" r="8.1"/>
<circle cx="1001.0" cy="411.0" r="8.1"/>
<circle cx="1006.0" cy="411.0" r="8.1"/>
<circle cx="1011.0" cy="411.0" r="8.1"/>
<circle cx="1016.0" cy="411.0" r="8.1"/>
<circle cx="836.0" cy="416.0" r="8.1"/>
<circle cx="841.0" cy="416.0" r="8.1"/>
<circle cx="846.0" cy="416.0" r="8.1"/>
<circle cx="851.0" cy="416.0" r="8.1"/>
<circle cx="871.0" cy="416.0" r="8.1"/>
<circle cx="876.0" cy="416.0" r="8.1"/>
<circle cx="881.0" cy="416.0" r="8.1"/>
<circle cx="886.0" cy="416.0" r="8.1"/>
<circle cx="911.0" cy="416.0" r="8.1"/>
<circle cx="931.0" cy="416.0" r="8.1"/>
<circle cx="936.0" cy="416.0" r="8.1"/>
<circle cx="941.0" cy="416.0" r="8.1"/>
<circle cx="946.0" cy="416.0" r="8.1"/>
<circle cx="951.0" cy="416.0" r="8.1"/>
<circle cx="956.0" cy="416.0" r="8.1"/>
<circle cx="961.0" cy="416.0" r="8.1"/>
<circle cx="981.0" cy="416.0" r="8.1"/>
<circle cx="986.0" cy="416.0" r="8.1"/>
<circle cx="991.0" cy="416.0" r="8.1"/>
<circle cx="996.0" cy="416.0" r="8.1"/>
<circle cx="1001.0" cy="416.0" r="8.1"/>
<circle cx="1006.0" cy="416.0" r="8.1"/>
<circle cx="1011.0" cy="416.0" r="8.1"/>
<circle cx="1016.0" cy="416.0" r="8.1"/>
<circle cx="1021.0" cy="416.0" r="8.1"/>
<circle cx="836.0" cy="421.0" r="8.1"/>
<circle cx="841.0" cy="421.0" r="8.1"/>
<circle cx="871.0" cy="421.0" r="8.1"/>
<circle cx="876.0" cy="421.0" r="8.1"/>
<circle cx="881.0" cy="421.0" r="8.1"/>
<circle cx="886.0" cy="421.0" r="8.1"/>
<circle cx="891.0" cy="421.0" r="8.1"/>
<circle cx="896.0" cy="421.0" r="8.1"/>
<circle cx="901.0" cy="421.0" r="8.1"/>
<circle cx="906.0" cy="421.0" r="8.1"/>
<circle cx="911.0" cy="421.0" r="8.1"/>
<circle cx="931.0" cy="421.0" r="8.1"/>
<circle cx="936.0" cy="421.0" r="8.1"/>
<circle cx="941.0" cy="421.0" r="8.1"/>
<circle cx="946.0" cy="421.0" r="8.1"/>
<circle cx="951.0" cy="421.0" r="8.1"/>
<circle cx="956.0" cy="421.0" r="8.1"/>
<circle cx="981.0" cy="421.0" r="8.1"/>
<circle cx="986.0" cy="421.0" r="8.1"/>
<circle cx="991.0" cy="421.0" r="8.1"/>
<circle cx="996.0" cy="421.0" r="8.1"/>
<circle cx="1001.0" cy="421.0" r="8.1"/>
<circle cx="1006.0" cy="421.0" r="8.1"/>
<circle cx="1011.0" cy="421.0" r="8.1"/>
<circle cx="1016.0" cy="421.0" r="8.1"/>
<circle cx="1021.0" cy="421.0" r="8.1"/>
<circle cx="836.0" cy="426.0" r="8.1"/>
<circle cx="841.0" cy="426.0" r="8.1"/>
<circle cx="846.0" cy="426.0" r="8.1"/>
<circle cx="851.0" cy="426.0" r="8.1"/>
<circle cx="871.0" cy="426.0" r="8.1"/>
<circle cx="876.0" cy="426.0" r="8.1"/>
<circle cx="881.0" cy="426.0" r="8.1"/>
<circle cx="886.0" cy="426.0" r="8.1"/>
<circle cx="891.0" cy="426.0" r="8.1"/>
<circle cx="896.0" cy="426.0" r="8.1"/>
<circle cx="901.0" cy="426.0" r="8.1"/>
<circle cx="906.0" cy="426.0" r="8.1"/>
<circle cx="911.0" cy="426.0" r="8.1"/>
<circle cx="931.0" cy="426.0" r="8.1"/>
<circle cx="936.0" cy="426.0" r="8.1"/>
<circle cx="941.0" cy="426.0" r="8.1"/>
<circle cx="946.0" cy="426.0" r="8.1"/>
<circle cx="951.0" cy="426.0" r="8.1"/>
<circle cx="956.0" cy="426.0" r="8.1"/>
<circle cx="961.0" cy="426.0" r="8.1"/>
<circle cx="981.0" cy="426.0" r="8.1"/>
<circle cx="986.0" cy="426.0" r="8.1"/>
<circle cx="991.0" cy="426.0" r="8.1"/>
<circle cx="996.0" cy="426.0" r="8.1"/>
<circle cx="1001.0" cy="426.0" r="8.1"/>
<circle cx="1006.0" cy="426.0" r="8.1"/>
<circle cx="1016.0" cy="426.0" r="8.1"/>
<circle cx="1021.0" cy="426.0" r="8.1"/>
<circle cx="831.0" cy="431.0" r="8.1"/>
<circle cx="836.0" cy="431.0" r="8.1"/>
<circle cx="841.0" cy="431.0" r="8.1"/>
<circle cx="846.0" cy="431.0" r="8.1"/>
<circle cx="851.0" cy="431.0" r="8.1"/>
<circle cx="856.0" cy="431.0" r="8.1"/>
<circle cx="861.0" cy="431.0" r="8.1"/>
<circle cx="866.0" cy="431.0" r="8.1"/>
<circle cx="871.0" cy="431.0" r="8.1"/>
<circle cx="876.0" cy="431.0" r="8.1"/>
<circle cx="881.0" cy="431.0" r="8.1"/>
<circle cx="886.0" cy="431.0" r="8.1"/>
<circle cx="896.0" cy="431.0" r="8.1"/>
<circle cx="901.0" cy="431.0" r="8.1"/>
<circle cx="906.0" cy="431.0" r="8.1"/>
<circle cx="911.0" cy="431.0" r="8.1"/>
<circle cx="916.0" cy="431.0" r="8.1"/>
<circle cx="921.0" cy="431.0" r="8.1"/>
<circle cx="926.0" cy="431.0" r="8.1"/>
<circle cx="931.0" cy="431.0" r="8.1"/>
<circle cx="936.0" cy="431.0" r="8.1"/>
<circle cx="941.0" cy="431.0" r="8.1"/>
<circle cx="946.0" cy="431.0" r="8.1"/>
<circle cx="951.0" cy="431.0" r="8.1"/>
<circle cx="956.0" cy="431.0" r="8.1"/>
<circle cx="961.0" cy="431.0" r="8.1"/>
<circle cx="966.0" cy="431.0" r="8.1"/>
<circle cx="991.0" cy="431.0" r="8.1"/>
<circle cx="996.0" cy="431.0" r="8.1"/>
<circle cx="1001.0" cy="431.0" r="8.1"/>
<circle cx="1026.0" cy="431.0" r="8.1"/>
<circle cx="1031.0" cy="431.0" r="8.1"/>
<circle cx="826.0" cy="436.0" r="8.1"/>
<circle cx="831.0" cy="436.0" r="8.1"/>
<circle cx="836.0" cy="436.0" r="8.1"/>
<circle cx="841.0" cy="436.0" r="8.1"/>
<circle cx="846.0" cy="436.0" r="8.1"/>
<circle cx="851.0" cy="436.0" r="8.1"/>
<circle cx="856.0" cy="436.0" r="8.1"/>
<circle cx="861.0" cy="436.0" r="8.1"/>
<circle cx="866.0" cy="436.0" r="8.1"/>
<circle cx="871.0" cy="436.0" r="8.1"/>
<circle cx="876.0" cy="436.0" r="8.1"/>
<circle cx="881.0" cy="436.0" r="8.1"/>
<circle cx="901.0" cy="436.0" r="8.1"/>
<circle cx="906.0" cy="436.0" r="8.1"/>
<circle cx="911.0" cy="436.0" r="8.1"/>
<circle cx="916.0" cy="436.0" r="8.1"/>
<circle cx="921.0" cy="436.0" r="8.1"/>
<circle cx="926.0" cy="436.0" r="8.1"/>
<circle cx="931.0" cy="436.0" r="8.1"/>
<circle cx="936.0" cy="436.0" r="8.1"/>
<circle cx="941.0" cy="436.0" r="8.1"/>
<circle cx="946.0" cy="436.0" r="8.1"/>
<circle cx="951.0" cy="436.0" r="8.1"/>
<circle cx="956.0" cy="436.0" r="8.1"/>
<circle cx="961.0" cy="436.0" r="8.1"/>
<circle cx="966.0" cy="436.0" r="8.1"/>
<circle cx="971.0" cy="436.0" r="8.1"/>
<circle cx="996.0" cy="436.0" r="8.1"/>
<circle cx="1001.0" cy="436.0" r="8.1"/>
<circle cx="1026.0" cy="436.0" r="8.1"/>
<circle cx="1031.0" cy="436.0" r="8.1"/>
<circle cx="826.0" cy="441.0" r="8.1"/>
<circle cx="831.0" cy="441.0" r="8.1"/>
<circle cx="836.0" cy="441.0" r="8.1"/>
<circle cx="841.0" cy="441.0" r="8.1"/>
<circle cx="851.0" cy="441.0" r="8.1"/>
<circle cx="856.0" cy="441.0" r="8.1"/>
<circle cx="861.0" cy="441.0" r="8.1"/>
<circle cx="866.0" cy="441.0" r="8.1"/>
<circle cx="871.0" cy="441.0" r="8.1"/>
<circle cx="876.0" cy="441.0" r="8.1"/>
<circle cx="881.0" cy="441.0" r="8.1"/>
<circle cx="906.0" cy="441.0" r="8.1"/>
<circle cx="911.0" cy="441.0" r="8.1"/>
<circle cx="916.0" cy="441.0" r="8.1"/>
<circle cx="921.0" cy="441.0" r="8.1"/>
<circle cx="926.0" cy="441.0" r="8.1"/>
<circle cx="931.0" cy="441.0" r="8.1"/>
<circle cx="936.0" cy="441.0" r="8.1"/>
<circle cx="941.0" cy="441.0" r="8.1"/>
<circle cx="946.0" cy="441.0" r="8.1"/>
<circle cx="951.0" cy="441.0" r="8.1"/>
<circle cx="956.0" cy="441.0" r="8.1"/>
<circle cx="961.0" cy="441.0" r="8.1"/>
<circle cx="966.0" cy="441.0" r="8.1"/>
<circle cx="971.0" cy="441.0" r="8.1"/>
<circle cx="996.0" cy="441.0" r="8.1"/>
<circle cx="1001.0" cy="441.0" r="8.1"/>
<circle cx="1006.0" cy="441.0" r="8.1"/>
<circle cx="1021.0" cy="441.0" r="8.1"/>
<circle cx="1026.0" cy="441.0" r="8.1"/>
<circle cx="826.0" cy="446.0" r="8.1"/>
<circle cx="846.0" cy="446.0" r="8.1"/>
<circle cx="851.0" cy="446.0" r="8.1"/>
<circle cx="856.0" cy="446.0" r="8.1"/>
<circle cx="861.0" cy="446.0" r="8.1"/>
<circle cx="866.0" cy="446.0" r="8.1"/>
<circle cx="871.0" cy="446.0" r="8.1"/>
<circle cx="876.0" cy="446.0" r="8.1"/>
<circle cx="881.0" cy="446.0" r="8.1"/>
<circle cx="901.0" cy="446.0" r="8.1"/>
<circle cx="906.0" cy="446.0" r="8.1"/>
<circle cx="911.0" cy="446.0" r="8.1"/>
<circle cx="916.0" cy="446.0" r="8.1"/>
<circle cx="921.0" cy="446.0" r="8.1"/>
<circle cx="926.0" cy="446.0" r="8.1"/>
<circle cx="931.0" cy="446.0" r="8.1"/>
<circle cx="936.0" cy="446.0" r="8.1"/>
<circle cx="941.0" cy="446.0" r="8.1"/>
<circle cx="946.0" cy="446.0" r="8.1"/>
<circle cx="951.0" cy="446.0" r="8.1"/>
<circle cx="956.0" cy="446.0" r="8.1"/>
<circle cx="961.0" cy="446.0" r="8.1"/>
<circle cx="966.0" cy="446.0" r="8.1"/>
<circle cx="971.0" cy="446.0" r="8.1"/>
<circle cx="991.0" cy="446.0" r="8.1"/>
<circle cx="996.0" cy="446.0" r="8.1"/>
<circle cx="1001.0" cy="446.0" r="8.1"/>
<circle cx="1006.0" cy="446.0" r="8.1"/>
<circle cx="1011.0" cy="446.0" r="8.1"/>
<circle cx="1016.0" cy="446.0" r="8.1"/>
<circle cx="1021.0" cy="446.0" r="8.1"/>
<circle cx="846.0" cy="451.0" r="8.1"/>
<circle cx="851.0" cy="451.0" r="8.1"/>
<circle cx="856.0" cy="451.0" r="8.1"/>
<circle cx="861.0" cy="451.0" r="8.1"/>
<circle cx="866.0" cy="451.0" r="8.1"/>
<circle cx="871.0" cy="451.0" r="8.1"/>
<circle cx="876.0" cy="451.0" r="8.1"/>
<circle cx="881.0" cy="451.0" r="8.1"/>
<circle cx="886.0" cy="451.0" r="8.1"/>
<circle cx="891.0" cy="451.0" r="8.1"/>
<circle cx="896.0" cy="451.0" r="8.1"/>
<circle cx="901.0" cy="451.0" r="8.1"/>
<circle cx="906.0" cy="451.0" r="8.1"/>
<circle cx="911.0" cy="451.0" r="8.1"/>
<circle cx="916.0" cy="451.0" r="8.1"/>
<circle cx="921.0" cy="451.0" r="8.1"/>
<circle cx="926.0" cy="451.0" r="8.1"/>
<circle cx="931.0" cy="451.0" r="8.1"/>
<circle cx="936.0" cy="451.0" r="8.1"/>
<circle cx="941.0" cy="451.0" r="8.1"/>
<circle cx="946.0" cy="451.0" r="8.1"/>
<circle cx="951.0" cy="451.0" r="8.1"/>
<circle cx="956.0" cy="451.0" r="8.1"/>
<circle cx="961.0" cy="451.0" r="8.1"/>
<circle cx="966.0" cy="451.0" r="8.1"/>
<circle cx="971.0" cy="451.0" r="8.1"/>
<circle cx="976.0" cy="451.0" r="8.1"/>
<circle cx="981.0" cy="451.0" r="8.1"/>
<circle cx="986.0" cy="451.0" r="8.1"/>
<circle cx="991.0" cy="451.0" r="8.1"/>
<circle cx="996.0" cy="451.0" r="8.1"/>
<circle cx="1001.0" cy="451.0" r="8.1"/>
<circle cx="1006.0" cy="451.0" r="8.1"/>
<circle cx="1011.0" cy="451.0" r="8.1"/>
<circle cx="1016.0" cy="451.0" r="8.1"/>
<circle cx="846.0" cy="456.0" r="8.1"/>
<circle cx="851.0" cy="456.0" r="8.1"/>
<circle cx="856.0" cy="456.0" r="8.1"/>
<circle cx="861.0" cy="456.0" r="8.1"/>
<circle cx="866.0" cy="456.0" r="8.1"/>
<circle cx="871.0" cy="456.0" r="8.1"/>
<circle cx="876.0" cy="456.0" r="8.1"/>
<circle cx="881.0" cy="456.0" r="8.1"/>
<circle cx="886.0" cy="456.0" r="8.1"/>
<circle cx="906.0" cy="456.0" r="8.1"/>
<circle cx="911.0" cy="456.0" r="8.1"/>
<circle cx="916.0" cy="456.0" r="8.1"/>
<circle cx="921.0" cy="456.0" r="8.1"/>
<circle cx="926.0" cy="456.0" r="8.1"/>
<circle cx="931.0" cy="456.0" r="8.1"/>
<circle cx="936.0" cy="456.0" r="8.1"/>
<circle cx="951.0" cy="456.0" r="8.1"/>
<circle cx="956.0" cy="456.0" r="8.1"/>
<circle cx="961.0" cy="456.0" r="8.1"/>
<circle cx="966.0" cy="456.0" r="8.1"/>
<circle cx="971.0" cy="456.0" r="8.1"/>
<circle cx="976.0" cy="456.0" r="8.1"/>
<circle cx="981.0" cy="456.0" r="8.1"/>
<circle cx="986.0" cy="456.0" r="8.1"/>
<circle cx="991.0" cy="456.0" r="8.1"/>
<circle cx="1006.0" cy="456.0" r="8.1"/>
<circle cx="1011.0" cy="456.0" r="8.1"/>
<circle cx="1016.0" cy="456.0" r="8.1"/>
<circle cx="826.0" cy="461.0" r="8.1"/>
<circle cx="846.0" cy="461.0" r="8.1"/>
<circle cx="851.0" cy="461.0" r="8.1"/>
<circle cx="856.0" cy="461.0" r="8.1"/>
<circle cx="861.0" cy="461.0" r="8.1"/>
<circle cx="866.0" cy="461.0" r="8.1"/>
<circle cx="871.0" cy="461.0" r="8.1"/>
<circle cx="876.0" cy="461.0" r="8.1"/>
<circle cx="881.0" cy="461.0" r="8.1"/>
<circle cx="886.0" cy="461.0" r="8.1"/>
<circle cx="911.0" cy="461.0" r="8.1"/>
<circle cx="916.0" cy="461.0" r="8.1"/>
<circle cx="921.0" cy="461.0" r="8.1"/>
<circle cx="926.0" cy="461.0" r="8.1"/>
<circle cx="931.0" cy="461.0" r="8.1"/>
<circle cx="956.0" cy="461.0" r="8.1"/>
<circle cx="961.0" cy="461.0" r="8.1"/>
<circle cx="966.0" cy="461.0" r="8.1"/>
<circle cx="971.0" cy="461.0" r="8.1"/>
<circle cx="976.0" cy="461.0" r="8.1"/>
<circle cx="981.0" cy="461.0" r="8.1"/>
<circle cx="986.0" cy="461.0" r="8.1"/>
<circle cx="1011.0" cy="461.0" r="8.1"/>
<circle cx="1016.0" cy="461.0" r="8.1"/>
<circle cx="1021.0" cy="461.0" r="8.1"/>
<circle cx="826.0" cy="466.0" r="8.1"/>
<circle cx="831.0" cy="466.0" r="8.1"/>
<circle cx="836.0" cy="466.0" r="8.1"/>
<circle cx="841.0" cy="466.0" r="8.1"/>
<circle cx="846.0" cy="466.0" r="8.1"/>
<circle cx="851.0" cy="466.0" r="8.1"/>
<circle cx="856.0" cy="466.0" r="8.1"/>
<circle cx="861.0" cy="466.0" r="8.1"/>
<circle cx="866.0" cy="466.0" r="8.1"/>
<circle cx="871.0" cy="466.0" r="8.1"/>
<circle cx="876.0" cy="466.0" r="8.1"/>
<circle cx="881.0" cy="466.0" r="8.1"/>
<circle cx="911.0" cy="466.0" r="8.1"/>
<circle cx="916.0" cy="466.0" r="8.1"/>
<circle cx="921.0" cy="466.0" r="8.1"/>
<circle cx="926.0" cy="466.0" r="8.1"/>
<circle cx="931.0" cy="466.0" r="8.1"/>
<circle cx="956.0" cy="466.0" r="8.1"/>
<circle cx="961.0" cy="466.0" r="8.1"/>
<circle cx="966.0" cy="466.0" r="8.1"/>
<circle cx="971.0" cy="466.0" r="8.1"/>
<circle cx="976.0" cy="466.0" r="8.1"/>
<circle cx="981.0" cy="466.0" r="8.1"/>
<circle cx="986.0" cy="466.0" r="8.1"/>
<circle cx="1011.0" cy="466.0" r="8.1"/>
<circle cx="1016.0" cy="466.0" r="8.1"/>
<circle cx="1021.0" cy="466.0" r="8.1"/>
<circle cx="1026.0" cy="466.0" r="8.1"/>
<circle cx="1031.0" cy="466.0" r="8.1"/>
<circle cx="860.7" cy="470.8" r="8.1"/>
<circle cx="871.0" cy="469.5" r="8.1"/>
<circle cx="882.6" cy="472.1" r="8.1"/>
<circle cx="882.6" cy="485.0" r="8.1"/>
<circle cx="861.9" cy="486.9" r="8.1"/>
<circle cx="859.4" cy="504.4" r="8.1"/>
<circle cx="869.7" cy="503.1" r="8.1"/>
<circle cx="883.9" cy="501.8" r="8.1"/>
<circle cx="856.8" cy="517.3" r="8.1"/>
<circle cx="876.2" cy="518.6" r="8.1"/>
<circle cx="878.7" cy="509.5" r="8.1"/>
<circle cx="863.2" cy="531.5" r="8.1"/>
<circle cx="871.0" cy="541.8" r="8.1"/>
<circle cx="853.6" cy="553.4" r="8.1"/>
<circle cx="896.2" cy="517.9" r="8.1"/>
<circle cx="903.9" cy="517.9" r="8.1"/>
<circle cx="906.5" cy="534.7" r="8.1"/>
<circle cx="903.9" cy="495.3" r="8.1"/>
<circle cx="909.7" cy="486.3" r="8.1"/>
<circle cx="907.1" cy="473.4" r="8.1"/>
<circle cx="917.5" cy="477.2" r="8.1"/>
<circle cx="927.8" cy="470.8" r="8.1"/>
<circle cx="921.3" cy="486.3" r="8.1"/>
<circle cx="930.4" cy="483.7" r="8.1"/>
<circle cx="938.1" cy="492.7" r="8.1"/>
<circle cx="933.0" cy="500.5" r="8.1"/>
<circle cx="949.7" cy="478.5" r="8.1"/>
<circle cx="958.8" cy="469.5" r="8.1"/>
<circle cx="985.9" cy="472.1" r="8.1"/>
<circle cx="998.8" cy="474.7" r="8.1"/>
<circle cx="1001.4" cy="483.7" r="8.1"/>
<circle cx="993.6" cy="492.7" r="8.1"/>
<circle cx="1005.3" cy="494.0" r="8.1"/>
<circle cx="973.0" cy="497.3" r="8.1"/>
<circle cx="987.8" cy="515.7" r="8.1"/>
<circle cx="948.2" cy="521.5" r="8.1"/>
<circle cx="1031.0" cy="190.5" r="8.1"/>
<circle cx="1049.7" cy="194.1" r="8.1"/>
<circle cx="1020.7" cy="204.7" r="8.1"/>
<circle cx="1037.4" cy="200.8" r="8.1"/>
<circle cx="1035.5" cy="216.3" r="8.1"/>
<circle cx="1039.4" cy="226.0" r="8.1"/>
<circle cx="1024.5" cy="227.3" r="8.1"/>
<circle cx="1015.5" cy="231.8" r="8.1"/>
<circle cx="1040.0" cy="243.4" r="8.1"/>
<circle cx="1012.9" cy="247.3" r="8.1"/>
<circle cx="1016.8" cy="253.7" r="8.1"/>
<circle cx="1031.6" cy="262.1" r="8.1"/>
<circle cx="1011.6" cy="266.6" r="8.1"/>
<circle cx="1022.6" cy="266.6" r="8.1"/>
<circle cx="1031.0" cy="278.3" r="8.1"/>
<circle cx="1065.2" cy="235.0" r="8.1"/>
<circle cx="1081.3" cy="191.7" r="8.1"/>
<circle cx="1082.0" cy="205.9" r="8.1"/>
<circle cx="1095.5" cy="206.6" r="8.1"/>
<circle cx="1109.7" cy="207.9" r="8.1"/>
<circle cx="1076.8" cy="218.6" r="8.1"/>
<circle cx="1115.3" cy="193.7" r="8.1"/>
<circle cx="1138.2" cy="216.9" r="8.1"/>
<circle cx="1136.2" cy="228.5" r="8.1"/>
<circle cx="1127.2" cy="231.8" r="8.1"/>
<circle cx="1127.2" cy="241.5" r="8.1"/>
<circle cx="1134.3" cy="247.3" r="8.1"/>
<circle cx="1138.2" cy="260.2" r="8.1"/>
<circle cx="1154.3" cy="262.8" r="8.1"/>
<circle cx="1153.0" cy="271.8" r="8.1"/>
<circle cx="1154.9" cy="278.3" r="8.1"/>
<circle cx="1165.3" cy="220.8" r="8.1"/>
<circle cx="1116.2" cy="255.7" r="8.1"/>
<circle cx="1095.5" cy="247.9" r="8.1"/>
<circle cx="1074.9" cy="254.4" r="8.1"/>
<circle cx="1082.6" cy="252.4" r="8.1"/>
<circle cx="1089.1" cy="260.2" r="8.1"/>
<circle cx="1091.7" cy="269.2" r="8.1"/>
<circle cx="1077.5" cy="277.0" r="8.1"/>
<circle cx="1087.8" cy="278.3" r="8.1"/>
<circle cx="1134.3" cy="279.5" r="8.1"/>
<circle cx="1016.8" cy="286.9" r="8.1"/>
<circle cx="1029.7" cy="281.7" r="8.1"/>
<circle cx="1037.4" cy="284.3" r="8.1"/>
<circle cx="1036.2" cy="299.8" r="8.1"/>
<circle cx="1027.1" cy="294.7" r="8.1"/>
<circle cx="1038.7" cy="290.8" r="8.1"/>
<circle cx="1054.2" cy="292.1" r="8.1"/>
<circle cx="1067.1" cy="288.2" r="8.1"/>
<circle cx="1082.6" cy="290.8" r="8.1"/>
<circle cx="1072.3" cy="297.2" r="8.1"/>
<circle cx="1058.1" cy="308.9" r="8.1"/>
<circle cx="1069.7" cy="305.0" r="8.1"/>
<circle cx="1012.9" cy="306.3" r="8.1"/>
<circle cx="1023.2" cy="315.3" r="8.1"/>
<circle cx="1032.3" cy="317.9" r="8.1"/>
<circle cx="1049.7" cy="319.8" r="8.1"/>
<circle cx="1019.4" cy="330.8" r="8.1"/>
<circle cx="1036.2" cy="330.8" r="8.1"/>
<circle cx="1054.2" cy="328.2" r="8.1"/>
<circle cx="1049.1" cy="338.6" r="8.1"/>
<circle cx="1069.7" cy="330.8" r="8.1"/>
<circle cx="1082.6" cy="333.4" r="8.1"/>
<circle cx="1065.8" cy="339.8" r="8.1"/>
<circle cx="1073.6" cy="348.9" r="8.1"/>
<circle cx="1016.8" cy="351.5" r="8.1"/>
<circle cx="1040.0" cy="351.5" r="8.1"/>
<circle cx="1056.8" cy="359.2" r="8.1"/>
<circle cx="1071.0" cy="357.9" r="8.1"/>
<circle cx="1036.2" cy="364.4" r="8.1"/>
<circle cx="1051.6" cy="368.3" r="8.1"/>
<circle cx="1067.1" cy="368.3" r="8.1"/>
<circle cx="1103.3" cy="301.8" r="8.1"/>
<circle cx="1095.5" cy="311.4" r="8.1"/>
<circle cx="1093.0" cy="316.6" r="8.1"/>
<circle cx="1102.0" cy="315.3" r="8.1"/>
<circle cx="1121.4" cy="283.0" r="8.1"/>
<circle cx="1122.7" cy="297.2" r="8.1"/>
<circle cx="1139.4" cy="295.9" r="8.1"/>
<circle cx="1152.4" cy="290.8" r="8.1"/>
<circle cx="1122.7" cy="307.6" r="8.1"/>
<circle cx="1131.7" cy="318.5" r="8.1"/>
<circle cx="1154.9" cy="316.6" r="8.1"/>
<circle cx="1094.3" cy="352.8" r="8.1"/>
<circle cx="1099.4" cy="356.6" r="8.1"/>
<circle cx="1104.6" cy="342.4" r="8.1"/>
<circle cx="1111.0" cy="339.8" r="8.1"/>
<circle cx="1120.1" cy="348.9" r="8.1"/>
<circle cx="1124.6" cy="341.1" r="8.1"/>
<circle cx="1147.2" cy="364.4" r="8.1"/>
<circle cx="1158.8" cy="364.4" r="8.1"/>
<circle cx="1031.0" cy="338.6" r="8.1"/>
<circle cx="1043.9" cy="346.3" r="8.1"/>
<circle cx="1054.2" cy="379.5" r="8.1"/>
<circle cx="1060.7" cy="371.7" r="8.1"/>
<circle cx="1037.4" cy="391.1" r="8.1"/>
<circle cx="1049.1" cy="385.9" r="8.1"/>
<circle cx="1054.2" cy="400.2" r="8.1"/>
<circle cx="1065.8" cy="402.7" r="8.1"/>
<circle cx="1040.0" cy="411.8" r="8.1"/>
<circle cx="1046.5" cy="419.5" r="8.1"/>
<circle cx="1051.6" cy="423.4" r="8.1"/>
<circle cx="1018.1" cy="423.4" r="8.1"/>
<circle cx="1043.9" cy="435.7" r="8.1"/>
<circle cx="1064.6" cy="430.5" r="8.1"/>
<circle cx="1042.6" cy="401.4" r="8.1"/>
<circle cx="1082.6" cy="378.2" r="8.1"/>
<circle cx="1096.8" cy="373.0" r="8.1"/>
<circle cx="1109.7" cy="373.0" r="8.1"/>
<circle cx="1122.7" cy="375.6" r="8.1"/>
<circle cx="1118.8" cy="384.7" r="8.1"/>
<circle cx="1117.5" cy="394.3" r="8.1"/>
<circle cx="1074.9" cy="393.7" r="8.1"/>
<circle cx="1082.6" cy="400.2" r="8.1"/>
<circle cx="1091.7" cy="398.9" r="8.1"/>
<circle cx="1089.1" cy="391.1" r="8.1"/>
<circle cx="1079.8" cy="417.6" r="8.1"/>
<circle cx="1076.2" cy="442.8" r="8.1"/>
<circle cx="1067.1" cy="449.2" r="8.1"/>
<circle cx="1077.5" cy="454.4" r="8.1"/>
<circle cx="1109.7" cy="414.4" r="8.1"/>
<circle cx="1112.3" cy="429.8" r="8.1"/>
<circle cx="1122.7" cy="427.3" r="8.1"/>
<circle cx="1126.5" cy="433.7" r="8.1"/>
<circle cx="1129.1" cy="441.5" r="8.1"/>
<circle cx="1120.1" cy="438.9" r="8.1"/>
<circle cx="1134.9" cy="406.3" r="8.1"/>
<circle cx="1154.9" cy="409.4" r="8.1"/>
<circle cx="1147.2" cy="387.2" r="8.1"/>
<circle cx="1149.8" cy="378.2" r="8.1"/>
<circle cx="1161.4" cy="378.2" r="8.1"/>
<circle cx="1154.3" cy="450.2" r="8.1"/>
<circle cx="1058.7" cy="461.1" r="8.1"/>
<circle cx="1074.9" cy="463.0" r="8.1"/>
<circle cx="1011.0" cy="474.7" r="8.1"/>
<circle cx="1028.4" cy="478.5" r="8.1"/>
<circle cx="1039.4" cy="476.6" r="8.1"/>
<circle cx="1053.6" cy="474.7" r="8.1"/>
<circle cx="1047.1" cy="490.8" r="8.1"/>
<circle cx="1060.7" cy="485.0" r="8.1"/>
<circle cx="1062.0" cy="492.7" r="8.1"/>
<circle cx="1075.5" cy="485.6" r="8.1"/>
<circle cx="1085.2" cy="478.5" r="8.1"/>
<circle cx="1061.3" cy="504.4" r="8.1"/>
<circle cx="1020.0" cy="510.8" r="8.1"/>
<circle cx="1124.6" cy="490.8" r="8.1"/>
<circle cx="1178.1" cy="202.1" r="8.1"/>
<circle cx="1174.2" cy="207.2" r="8.1"/>
<circle cx="1270.8" cy="221.2" r="8.1"/>
<circle cx="1325.9" cy="240.2" r="8.1"/>
<circle cx="1183.2" cy="253.1" r="8.1"/>
<circle cx="1189.7" cy="252.4" r="8.1"/>
<circle cx="1201.3" cy="273.1" r="8.1"/>
<circle cx="1181.3" cy="279.5" r="8.1"/>
<circle cx="1185.8" cy="290.8" r="8.1"/>
<circle cx="1193.6" cy="297.9" r="8.1"/>
<circle cx="1171.0" cy="299.2" r="8.1"/>
<circle cx="1181.7" cy="311.4" r="8.1"/>
<circle cx="1209.3" cy="305.0" r="8.1"/>
<circle cx="1232.3" cy="305.6" r="8.1"/>
<circle cx="1294.3" cy="291.4" r="8.1"/>
<circle cx="1206.7" cy="344.6" r="8.1"/>
<circle cx="1244.6" cy="356.4" r="8.1"/>
<circle cx="1171.0" cy="361.8" r="8.1"/>
<circle cx="1174.8" cy="371.7" r="8.1"/>
<circle cx="1186.9" cy="421.7" r="8.1"/>
<circle cx="873.2" cy="336.8" r="8.1"/>
<circle cx="921.9" cy="351.3" r="8.1"/>
<circle cx="933.8" cy="342.7" r="8.1"/>
<circle cx="1005.6" cy="315.4" r="8.1"/>
<circle cx="976.6" cy="306.8" r="8.1"/>
<circle cx="950.9" cy="329.1" r="8.1"/>
<circle cx="875.7" cy="474.7" r="8.1"/>
<circle cx="889.4" cy="476.4" r="8.1"/>
<circle cx="1081.0" cy="282.3" r="8.1"/>
<circle cx="1069.1" cy="294.3" r="8.1"/>
<circle cx="1058.8" cy="301.1" r="8.1"/>
<circle cx="1130.6" cy="289.1" r="8.1"/>
<circle cx="664.3" cy="390.0" r="8.1"/>
<circle cx="760.0" cy="330.1" r="8.1"/>
<circle cx="1046.8" cy="350.6" r="8.1"/>
<circle cx="1045.1" cy="390.0" r="8.1"/>
<circle cx="1074.2" cy="366.0" r="8.1"/>
<circle cx="1084.4" cy="383.1" r="8.1"/>
<circle cx="1050.3" cy="376.3" r="8.1"/>
<circle cx="1050.3" cy="410.5" r="8.1"/>
<circle cx="930.8" cy="476.4" r="8.1"/>
<circle cx="954.7" cy="471.3" r="8.1"/>
<circle cx="814.5" cy="299.3" r="8.1"/>
<circle cx="826.6" cy="305.4" r="8.1"/>
<circle cx="817.5" cy="306.9" r="8.1"/>
<circle cx="858.5" cy="307.6" r="8.1"/>
</g>
<ellipse cx="906.5" cy="370.6" rx="332.3" ry="184.4" transform="rotate(-14.14 906.5 370.6)" fill="none" stroke="#457d1f" stroke-width="4.2"/>
<path d="M168 675.0L1396 617.8" stroke="#000" stroke-width="5" stroke-dasharray="9 7.5" fill="none"/>
<path d="M168 99.3V674.5" stroke="#000" stroke-width="2.2" fill="none"/>
<path d="M153 673.7H169 M153 601.9H169 M153 530.1H169 M153 458.3H169 M153 386.5H169 M153 314.7H169 M153 242.9H169 M153 171.1H169 M153 99.3H169" stroke="#000" stroke-width="2.2" fill="none"/>
<path d="M195 702.3H1374.8" stroke="#000" stroke-width="2.2" fill="none"/>
<path d="M196.8 701.5V716 M344.0 701.5V716 M491.1 701.5V716 M638.3 701.5V716 M785.4 701.5V716 M932.6 701.5V716 M1079.8 701.5V716 M1226.9 701.5V716 M1374.1 701.5V716" stroke="#000" stroke-width="2.2" fill="none"/>
<text x="145.8" y="681.2" font-size="23.5" text-anchor="end" textLength="12.3" lengthAdjust="spacingAndGlyphs" fill="#000">0</text>
<text x="145.8" y="609.4" font-size="23.5" text-anchor="end" textLength="67.9" lengthAdjust="spacingAndGlyphs" fill="#000">20,000</text>
<text x="145.8" y="537.6" font-size="23.5" text-anchor="end" textLength="67.9" lengthAdjust="spacingAndGlyphs" fill="#000">40,000</text>
<text x="145.8" y="465.8" font-size="23.5" text-anchor="end" textLength="67.9" lengthAdjust="spacingAndGlyphs" fill="#000">60,000</text>
<text x="145.8" y="394.0" font-size="23.5" text-anchor="end" textLength="67.9" lengthAdjust="spacingAndGlyphs" fill="#000">80,000</text>
<text x="145.8" y="322.2" font-size="23.5" text-anchor="end" textLength="80.3" lengthAdjust="spacingAndGlyphs" fill="#000">100,000</text>
<text x="145.8" y="250.4" font-size="23.5" text-anchor="end" textLength="80.3" lengthAdjust="spacingAndGlyphs" fill="#000">120,000</text>
<text x="145.8" y="178.6" font-size="23.5" text-anchor="end" textLength="80.3" lengthAdjust="spacingAndGlyphs" fill="#000">140,000</text>
<text x="145.8" y="106.8" font-size="23.5" text-anchor="end" textLength="80.3" lengthAdjust="spacingAndGlyphs" fill="#000">160,000</text>
<text x="196.8" y="739.5" font-size="23.5" text-anchor="middle" textLength="43.7" lengthAdjust="spacingAndGlyphs" fill="#000">0.00</text>
<text x="344.0" y="739.5" font-size="23.5" text-anchor="middle" textLength="43.7" lengthAdjust="spacingAndGlyphs" fill="#000">0.05</text>
<text x="491.1" y="739.5" font-size="23.5" text-anchor="middle" textLength="43.7" lengthAdjust="spacingAndGlyphs" fill="#000">0.10</text>
<text x="638.3" y="739.5" font-size="23.5" text-anchor="middle" textLength="43.7" lengthAdjust="spacingAndGlyphs" fill="#000">0.15</text>
<text x="785.4" y="739.5" font-size="23.5" text-anchor="middle" textLength="43.7" lengthAdjust="spacingAndGlyphs" fill="#000">0.20</text>
<text x="932.6" y="739.5" font-size="23.5" text-anchor="middle" textLength="43.7" lengthAdjust="spacingAndGlyphs" fill="#000">0.25</text>
<text x="1079.8" y="739.5" font-size="23.5" text-anchor="middle" textLength="43.7" lengthAdjust="spacingAndGlyphs" fill="#000">0.30</text>
<text x="1226.9" y="739.5" font-size="23.5" text-anchor="middle" textLength="43.7" lengthAdjust="spacingAndGlyphs" fill="#000">0.35</text>
<text x="1374.1" y="739.5" font-size="23.5" text-anchor="middle" textLength="43.7" lengthAdjust="spacingAndGlyphs" fill="#000">0.40</text>
<text x="349" y="30.9" font-size="37.2" font-weight="bold" textLength="762" lengthAdjust="spacingAndGlyphs">ICE Scatterplot, pembrolizumab v. placebo</text>
<text x="639.6" y="783.7" font-size="24" font-weight="bold" textLength="289" lengthAdjust="spacingAndGlyphs">Incremental Effectiveness</text>
<text transform="translate(23.7 489) rotate(-90)" x="0" y="0" font-size="24" font-weight="bold" textLength="189.6" lengthAdjust="spacingAndGlyphs">Incremental Cost</text>
<text transform="translate(201 657.7) rotate(-2.55)" x="0" y="0" font-size="32.5" font-weight="bold" textLength="183.5" lengthAdjust="spacingAndGlyphs">WTP=38224</text>
</svg></body></html>
